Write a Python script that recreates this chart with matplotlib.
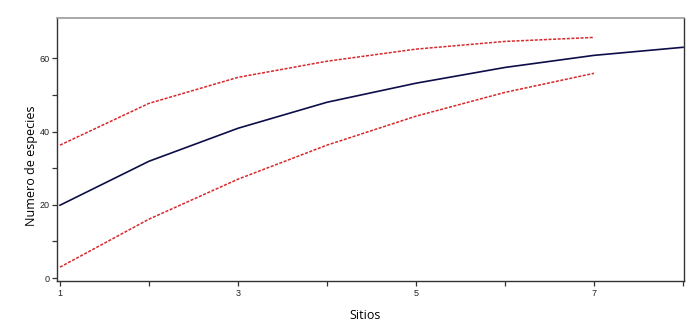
import numpy as np
import matplotlib
matplotlib.use("Agg")
import matplotlib.pyplot as plt
from matplotlib.ticker import FixedLocator

sitios = [1, 2, 3, 4, 5, 6, 7, 8]
especies = [19.9, 31.9, 40.9, 48.0, 53.2, 57.5, 60.8, 63.0]

sitios_ic = [1, 2, 3, 4, 5, 6, 7]
ic_sup = [36.3, 47.7, 54.8, 59.2, 62.5, 64.6, 65.7]
ic_inf = [3.0, 16.1, 27.0, 36.3, 44.2, 50.7, 55.9]

x_ticks = [1, 3, 5, 7]
x_minor = [1, 2, 3, 4, 5, 6, 7, 8]
y_ticks = [0, 20, 40, 60]
y_minor = [0, 10, 20, 30, 40, 50, 60]

fig = plt.figure(figsize=(7, 3.33), dpi=100)
ax = fig.add_axes([0.0814, 0.156, 0.8956, 0.79])

ax.plot(sitios, especies, color="#0d0d4a", lw=1.2)
ax.plot(sitios_ic, ic_sup, color="#d8282c", lw=1.1, ls=(0, (2, 1)))
ax.plot(sitios_ic, ic_inf, color="#d8282c", lw=1.1, ls=(0, (2, 1)))

ax.set_xlim(0.966, 8.01)
ax.set_ylim(-0.8, 71)

ax.xaxis.set_major_locator(FixedLocator(x_ticks))
ax.xaxis.set_minor_locator(FixedLocator(x_minor))
ax.yaxis.set_major_locator(FixedLocator(y_ticks))
ax.yaxis.set_minor_locator(FixedLocator(y_minor))
ax.tick_params(which="both", direction="out", length=3.6, width=0.9,
               color="#333333", labelsize=6.5, labelcolor="#222222", pad=1.8)
for lab in ax.get_xticklabels() + ax.get_yticklabels():
    lab.set_family("Liberation Sans")

for s in ["left", "bottom", "right"]:
    ax.spines[s].set_color("#333333")
    ax.spines[s].set_linewidth(1.0)
ax.spines["top"].set_color("#999999")
ax.spines["top"].set_linewidth(1.2)

ax.set_xlabel("Sitios", fontsize=9, family="Open Sans")
ax.set_ylabel("Numero de especies", fontsize=9, family="Open Sans")
ax.xaxis.set_label_coords(0.491, -0.105)
ax.yaxis.set_label_coords(-0.031, 0.437)

plt.savefig("out.png", dpi=100)
